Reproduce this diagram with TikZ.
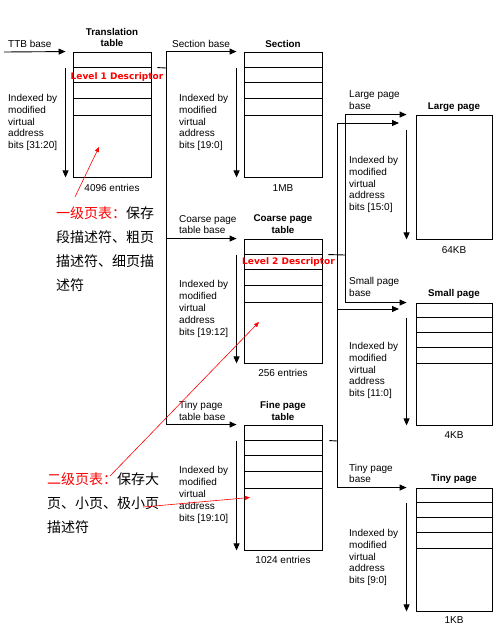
\documentclass[tikz,border=0pt]{standalone}
\usepackage{fontspec}
\setmainfont{Liberation Sans}
\newfontfamily\djb{DejaVu Sans}
\newfontfamily\cjk{Noto Sans CJK SC}
\usetikzlibrary{arrows.meta}
\begin{document}
\begin{tikzpicture}[x=1pt,y=-1pt,
  lbl/.style={font=\fontsize{10}{11.8}\selectfont, inner sep=0pt, align=left, anchor=west},
  ttl/.style={font=\fontsize{9.8}{11.8}\selectfont\bfseries, inner sep=0pt, align=center},
  sizelbl/.style={font=\fontsize{10}{11.8}\selectfont, inner sep=0pt},
  tbl/.style={draw, line width=0.9pt, inner sep=0pt},
  ln/.style={line width=0.9pt},
  arr/.style={line width=0.9pt, -{Triangle[length=7pt,width=6pt]}},
  desc/.style={font=\djb\fontsize{9}{10}\selectfont\bfseries, text=red, inner sep=0pt},
  note/.style={font=\cjk\fontsize{14}{24}\selectfont, inner sep=0pt, align=left, anchor=west},
  rarr/.style={red, line width=0.6pt, -{Triangle[length=5pt,width=4pt]}}
]
\useasboundingbox (0,0) rectangle (500,630);

% tables
\node[tbl, minimum width=78pt, minimum height=125pt] (tt) at (112,114.5) {};
\node[tbl, minimum width=78pt, minimum height=125pt] (sec) at (283,114.5) {};
\node[tbl, minimum width=78pt, minimum height=124pt] (coarse) at (283,301) {};
\node[tbl, minimum width=78pt, minimum height=125pt] (fine) at (283,487.5) {};
\node[tbl, minimum width=76pt, minimum height=124pt] (large) at (454,177) {};
\node[tbl, minimum width=76pt, minimum height=122pt] (small) at (454,364) {};
\node[tbl, minimum width=76pt, minimum height=123pt] (tiny) at (454,549.5) {};

\foreach \t in {tt,sec,coarse,fine}
  \foreach \d in {16,31,47,64}
    \draw[ln] ([yshift=-\d pt]\t.north west) -- ([yshift=-\d pt]\t.north east);
\foreach \t in {small,tiny}
  \foreach \d in {15,30,45,61}
    \draw[ln] ([yshift=-\d pt]\t.north west) -- ([yshift=-\d pt]\t.north east);

% index arrows
\foreach \t in {tt,sec,coarse,fine}
  \draw[arr] ([xshift=-7pt,yshift=-16pt]\t.north west) -- ([xshift=-7pt]\t.south west);
\foreach \t in {large,small,tiny}
  \draw[arr] ([xshift=-9pt,yshift=-15pt]\t.north west) -- ([xshift=-9pt]\t.south west);

% TTB base
\coordinate (ttbin) at (4,52);
\draw[arr] (ttbin) -- ([xshift=-7pt]tt.north west);

% level 1 trunk
\coordinate (t1) at (166,68);
\draw[ln] ([xshift=6pt,yshift=-16pt]tt.north east) -- (t1);
\draw[arr] (t1) |- ([xshift=-7pt]sec.north west);
\draw[arr] (t1) |- ([xshift=-7pt]coarse.north west);
\draw[arr] (t1) |- ([xshift=-7pt]fine.north west);

% coarse trunk
\coordinate (c2) at (345,255);
\draw[ln] ([xshift=6pt,yshift=-16pt]coarse.north east) -- (c2);
\draw[arr] (c2) |- ([xshift=-9pt]large.north west);
\draw[arr] (c2) |- ([xshift=-9pt]small.north west);

% fine trunk
\coordinate (f2) at (337,441);
\coordinate (lg2) at (399,123);
\coordinate (sm2) at (399,309);
\draw[ln] ([xshift=7pt,yshift=-16pt]fine.north east) -- (f2);
\draw[arr] (f2) |- (lg2);
\draw[arr] (f2) |- (sm2);
\draw[arr] (f2) |- ([xshift=-9pt]tiny.north west);

% titles
\node[ttl] (ttT) at (112,37.5) {Translation\\table};
\node[ttl] (secT) at (283,44) {Section};
\node[ttl] (coarseT) at (283,224.5) {Coarse page\\table};
\node[ttl] (fineT) at (283,411) {Fine page\\table};
\node[ttl] (largeT) at (454,107) {Large page};
\node[ttl] (smallT) at (454,294) {Small page};
\node[ttl] (tinyT) at (454,479) {Tiny page};

% base labels
\node[lbl] (ttbL) at (8,44) {TTB base};
\node[lbl] (secL) at (172,44) {Section base};
\node[lbl] (coarseL) at (179,224.5) {Coarse page\\table base};
\node[lbl] (fineL) at (179,411) {Tiny page\\table base};
\node[lbl] (largeL) at (349,100.5) {Large page\\base};
\node[lbl] (smallL) at (349,287) {Small page\\base};
\node[lbl] (tinyL) at (349,473.5) {Tiny page\\base};

% index labels
\node[lbl] (ttI) at (8,122.5) {Indexed by\\modified\\virtual\\address\\bits [31:20]};
\node[lbl] (secI) at (179,122.5) {Indexed by\\modified\\virtual\\address\\bits [19:0]};
\node[lbl] (coarseI) at (179,309) {Indexed by\\modified\\virtual\\address\\bits [19:12]};
\node[lbl] (fineI) at (179,495) {Indexed by\\modified\\virtual\\address\\bits [19:10]};
\node[lbl] (largeI) at (349,184.5) {Indexed by\\modified\\virtual\\address\\bits [15:0]};
\node[lbl] (smallI) at (349,370.5) {Indexed by\\modified\\virtual\\address\\bits [11:0]};
\node[lbl] (tinyI) at (349,557.5) {Indexed by\\modified\\virtual\\address\\bits [9:0]};

% sizes
\node[sizelbl] (ttS) at (112,188) {4096 entries};
\node[sizelbl] (secS) at (283,188) {1MB};
\node[sizelbl] (coarseS) at (283,373) {256 entries};
\node[sizelbl] (fineS) at (283,560) {1024 entries};
\node[sizelbl] (largeS) at (454,250) {64KB};
\node[sizelbl] (smallS) at (454,435) {4KB};
\node[sizelbl] (tinyS) at (454,620.5) {1KB};

% descriptors
\node[desc] (d1) at (117,77) {Level 1 Descriptor};
\node[desc] (d2) at (288.5,262) {Level 2 Descriptor};

% notes
\node[note] (n1) at (56,249.5) {\textcolor{red}{一级页表：}保存\\段描述符、粗页\\描述符、细页描\\述符};
\node[note] (n2) at (47,503) {\textcolor{red}{二级页表：}保存大\\页、小页、极小页\\描述符};

\coordinate (r1s) at (75,197);
\coordinate (r1e) at (99,147);
\coordinate (r2s) at (110,476);
\coordinate (r2e) at (259,322);
\coordinate (r3s) at (143,507);
\coordinate (r3e) at (250,497.5);
\draw[rarr] (r1s) -- (r1e);
\draw[rarr] (r2s) -- (r2e);
\draw[rarr] (r3s) -- (r3e);
\end{tikzpicture}
\end{document}
